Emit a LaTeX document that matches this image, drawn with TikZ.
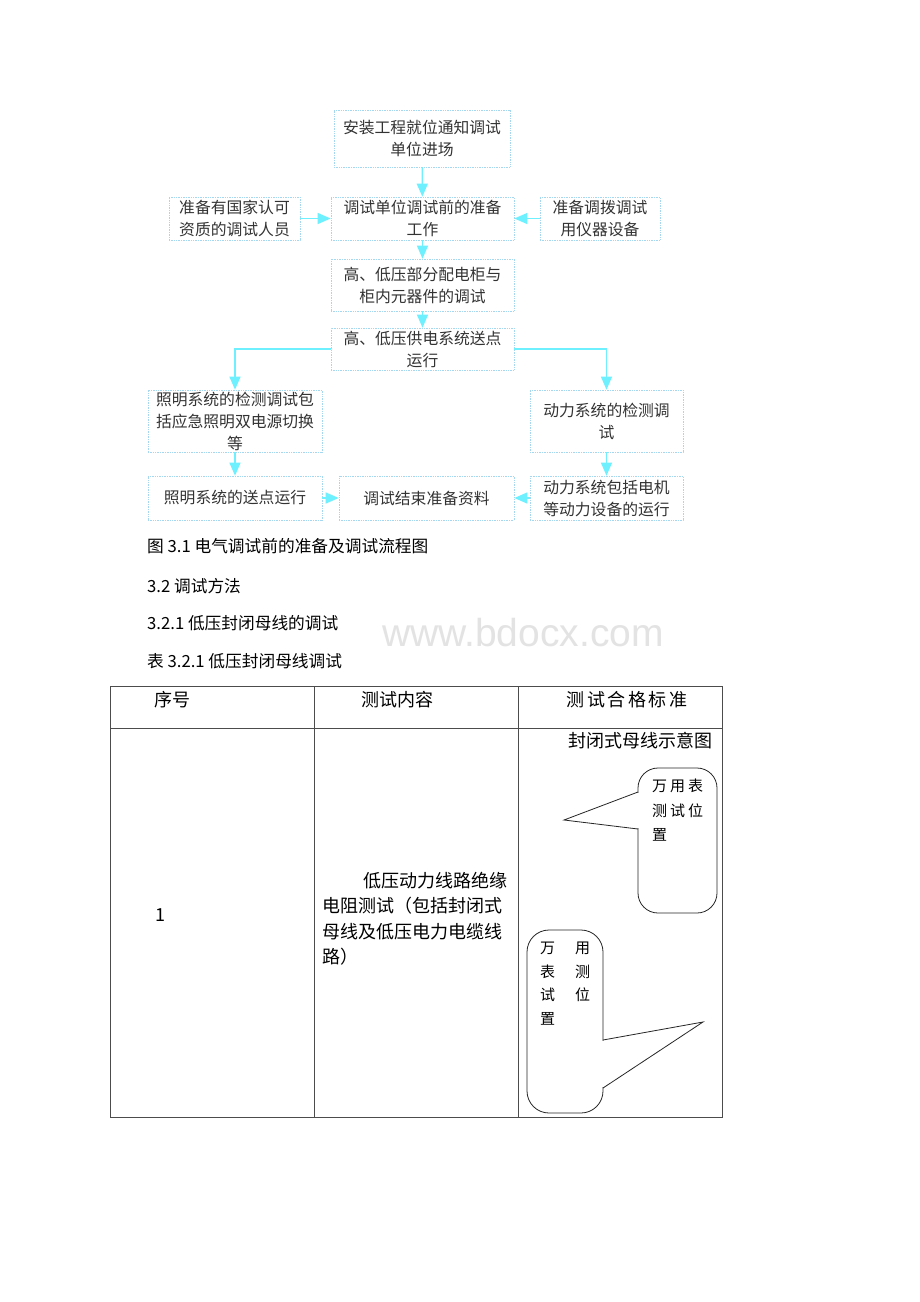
\documentclass[tikz,border=0pt]{standalone}
\usepackage{fontspec}
\setmainfont{Noto Sans CJK SC}
\newfontfamily\wmfont{Liberation Sans}
\usetikzlibrary{arrows.meta}
\definecolor{arr}{RGB}{110,240,255}
\definecolor{bord}{RGB}{165,215,240}
\tikzset{
 fbox/.style={draw=bord, densely dotted, line width=0.7pt, align=center, inner sep=0pt,
   font=\fontsize{15.8}{22}\selectfont, text=black!80},
 farr/.style={draw=arr, line width=1.3pt, -{Triangle[length=13pt,width=11pt]}},
 captxt/.style={anchor=west, inner sep=0pt, font=\fontsize{16.7}{20}\selectfont},
 tabtxt/.style={inner sep=0pt, font=\fontsize{18}{25.3}\selectfont},
 tline/.style={draw=black!70, line width=0.8pt},
 callout/.style={draw=black!85, line width=0.8pt},
 ctxt/.style={inner sep=0pt, align=left, anchor=north west, font=\fontsize{15}{24.5}\selectfont}
}
\begin{document}
\begin{tikzpicture}[x=1pt,y=-1pt]
\useasboundingbox[fill=white] (0,0) rectangle (920,1302);
% watermark
\node[font=\wmfont\fontsize{39}{39}\selectfont, text=black!11, inner sep=0pt] (wm) at (523,633) {www.bdocx.com};
% flowchart boxes
\node[fbox, minimum width=176pt, minimum height=57pt] (A) at (422,138.5) {安装工程就位通知调试\\单位进场};
\node[fbox, minimum width=183pt, minimum height=43pt] (B) at (422.5,218.5) {调试单位调试前的准备\\工作};
\node[fbox, minimum width=131pt, minimum height=43pt] (L1) at (234.5,218.5) {准备有国家认可\\资质的调试人员};
\node[fbox, minimum width=120pt, minimum height=43pt] (R1) at (600,218.5) {准备调拨调试\\用仪器设备};
\node[fbox, minimum width=183pt, minimum height=52pt] (C) at (422.5,285) {高、低压部分配电柜与\\柜内元器件的调试};
\node[fbox, minimum width=183pt, minimum height=42pt] (D) at (422.5,349) {高、低压供电系统送点\\运行};
\node[fbox, minimum width=174pt, minimum height=62pt] (E) at (235,421) {照明系统的检测调试包\\括应急照明双电源切换\\等};
\node[fbox, minimum width=153pt, minimum height=62pt] (F) at (606.5,421) {动力系统的检测调\\试};
\node[fbox, minimum width=174pt, minimum height=44pt] (G) at (235,498) {照明系统的送点运行};
\node[fbox, minimum width=175pt, minimum height=44pt] (H) at (426.5,498) {调试结束准备资料};
\node[fbox, minimum width=153pt, minimum height=44pt] (I) at (606.5,498) {动力系统包括电机\\等动力设备的运行};
% arrows
\draw[farr] (A) -- (B);
\draw[farr] (B) -- (C);
\draw[farr] (C) -- (D);
\draw[farr] (L1) -- (B);
\draw[farr] (R1) -- (B);
\draw[farr] (D.west) -| (E.north);
\draw[farr] (D.east) -| (F.north);
\draw[farr] (E) -- (G);
\draw[farr] (F) -- (I);
\draw[farr] (G) -- (H);
\draw[farr] (I) -- (H);
% captions
\node[captxt] (c1) at (147,546) {图 3.1 电气调试前的准备及调试流程图};
\node[captxt] (c2) at (147,586) {3.2 调试方法};
\node[captxt] (c3) at (147,623) {3.2.1 低压封闭母线的调试};
\node[captxt] (c4) at (147,661) {表 3.2.1 低压封闭母线调试};
% table
\draw[tline] (110,686) rectangle (722,1117);
\draw[tline] (314,686) -- (314,1117);
\draw[tline] (518,686) -- (518,1117);
\draw[tline] (110,728) -- (722,728);
\node[tabtxt] (h1) at (172,700) {序号};
\node[tabtxt] (h2) at (397,700) {测试内容};
\node[tabtxt] (h3) at (627,700) {测\hspace{2.5pt}试\hspace{2.5pt}合\hspace{2.5pt}格\hspace{2.5pt}标\hspace{2.5pt}准};
\node[tabtxt] (n1) at (160,915) {1};
\node[tabtxt, align=left, anchor=north west] (m1) at (322,872) {\hspace{2.3em}低压动力线路绝缘\\电阻测试（包括封闭式\\母线及低压电力电缆线\\路）};
\node[tabtxt, anchor=east] (s1) at (713,741) {封闭式母线示意图};
% callout 1
\draw[callout, rounded corners=20pt] (638,768) rectangle (717,913);
\fill[white] (636.5,793) rectangle (639.5,828);
\draw[callout, line join=miter] (638,792) -- (564,820) -- (638,829);
\node[ctxt] (t1) at (652,779) {万\hspace{3pt}用\hspace{3pt}表\\测\hspace{3pt}试\hspace{3pt}位\\置};
% callout 2
\draw[callout, rounded corners=22pt] (527,930) rectangle (603,1113);
\fill[white] (601.5,1041) rectangle (604.5,1087);
\draw[callout, line join=miter] (603,1040) -- (703,1022) -- (603,1088);
\node[ctxt, font=\fontsize{15}{23.5}\selectfont] (t2) at (540,942) {万\hspace{20pt}用\\表\hspace{20pt}测\\试\hspace{20pt}位\\置};
\end{tikzpicture}
\end{document}
